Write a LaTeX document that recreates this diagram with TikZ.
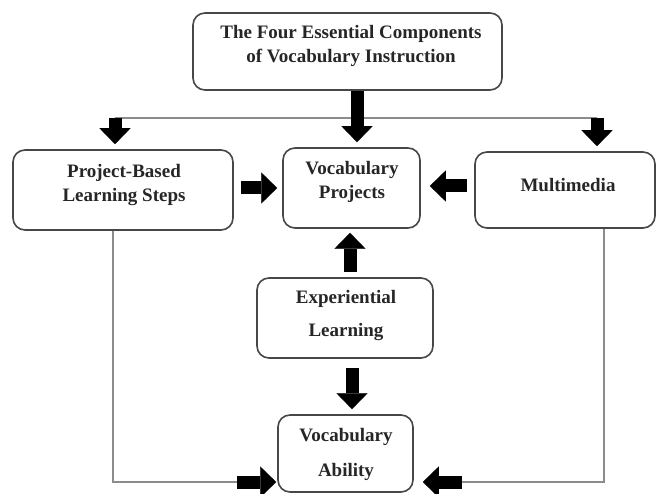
\documentclass[tikz,border=0pt]{standalone}
\usepackage{fontspec}
\setmainfont{Liberation Serif}
\usetikzlibrary{arrows.meta}
\begin{document}
\begin{tikzpicture}[x=1pt,y=-1pt,
  box/.style={draw=black!72, line width=1.6pt, rounded corners=12pt, inner sep=0pt},
  txt/.style={font=\bfseries\fontsize{19}{24}\selectfont, align=center, text=black!85, inner sep=0pt},
  blk/.style={line width=13pt, black, -{Triangle[width=31pt,length=16pt,line width=0.1pt]}},
  thinln/.style={draw=black!45, line width=1.5pt}]
\fill[white] (0,0) rectangle (658,494);
\useasboundingbox (0,0) rectangle (658,494);
% boxes
\node[box, minimum width=309pt, minimum height=77pt] (top) at (347.5,51.5) {};
\node[txt] (toptxt) at (351,46) {The Four Essential Components\\of Vocabulary Instruction};
\node[box, minimum width=220pt, minimum height=80pt] (pbl) at (123,190) {};
\node[txt] (pbltxt) at (124,185) {Project-Based\\Learning Steps};
\node[box, minimum width=137pt, minimum height=80pt] (vp) at (351.5,188) {};
\node[txt] (vptxt) at (352,182) {Vocabulary\\Projects};
\node[box, minimum width=180pt, minimum height=76pt] (mm) at (565,190) {};
\node[txt] (mmtxt) at (568,185) {Multimedia};
\node[box, minimum width=176pt, minimum height=80pt] (exp) at (345,318) {};
\node[txt, font=\bfseries\fontsize{19}{33}\selectfont] (exptxt) at (346,316) {Experiential\\Learning};
\node[box, minimum width=135pt, minimum height=77pt] (va) at (345.5,453.5) {};
\node[txt, font=\bfseries\fontsize{19}{35}\selectfont] (vatxt) at (346,454) {Vocabulary\\Ability};
% top distribution line
\coordinate (c1) at (115,118);
\coordinate (c2) at (597,118);
\draw[thinln] (c1) -- (c2);
\draw[blk, shorten >=5pt] (c1) -- (c1 |- pbl.north);
\draw[blk, shorten >=5pt] (c2) -- (c2 |- mm.north);
\draw[blk] ([xshift=9.5pt]top.south) -- ([xshift=5.5pt,yshift=5pt]vp.north);
% side arrows into projects
\draw[blk] ([xshift=7pt,yshift=2pt]pbl.east) -- ([xshift=-5pt,yshift=2pt]pbl.east -| vp.west);
\draw[blk] ([xshift=-7pt,yshift=4pt]mm.west) -- ([xshift=9pt,yshift=4pt]mm.west -| vp.east);
% experiential arrows
\draw[blk] ([xshift=5pt,yshift=5pt]exp.north) -- ([xshift=-1.5pt,yshift=-4pt]vp.south);
\draw[blk] ([xshift=7pt,yshift=-9pt]exp.south) -- ([xshift=6.5pt,yshift=5pt]va.north);
% bottom feedback lines
\coordinate (lb) at (237,482);
\coordinate (rb) at (462,482);
\draw[thinln] ([xshift=-10pt]pbl.south) |- (lb);
\draw[thinln] ([xshift=39pt]mm.south) |- (rb);
\draw[blk] (lb) -- ([xshift=-1pt]lb -| va.west);
\draw[blk] (rb) -- ([xshift=9pt]rb -| va.east);
\end{tikzpicture}
\end{document}
